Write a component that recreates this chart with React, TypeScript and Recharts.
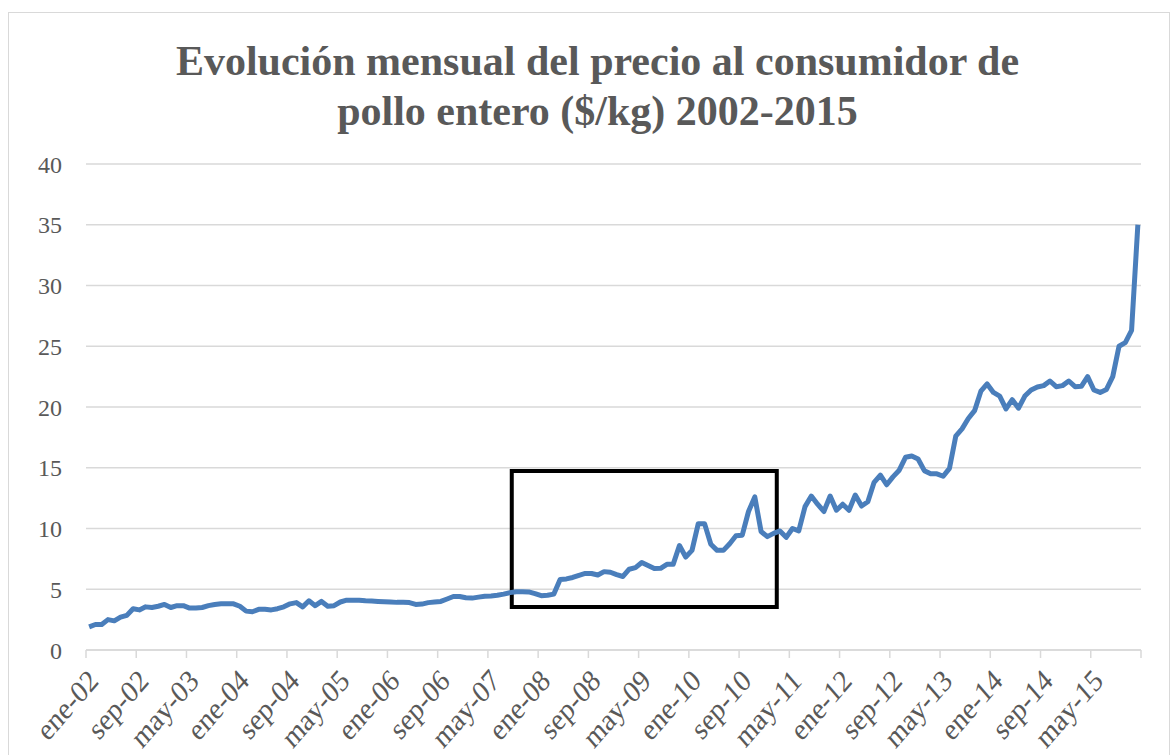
import { LineChart, Line, XAxis, YAxis, CartesianGrid, ReferenceArea } from 'recharts';

// etiquetas del eje X, una cada 8 meses desde ene-02
const tickLabels = [
  'ene-02', 'sep-02', 'may-03', 'ene-04', 'sep-04', 'may-05', 'ene-06', 'sep-06',
  'may-07', 'ene-08', 'sep-08', 'may-09', 'ene-10', 'sep-10', 'may-11', 'ene-12',
  'sep-12', 'may-13', 'ene-14', 'sep-14', 'may-15',
];

const yTicks = [0, 5, 10, 15, 20, 25, 30, 35, 40];

// precio mensual ($/kg), ene-02 .. dic-15
const precios = [
  1.9, 2.1, 2.1, 2.5, 2.4, 2.7, 2.85, 3.4, 3.3, 3.55, 3.5, 3.6,
  3.75, 3.5, 3.65, 3.65, 3.45, 3.45, 3.5, 3.65, 3.75, 3.8, 3.8, 3.8,
  3.6, 3.2, 3.15, 3.35, 3.35, 3.3, 3.4, 3.55, 3.8, 3.9, 3.55, 4.05,
  3.65, 4.0, 3.6, 3.65, 3.95, 4.1, 4.1, 4.1, 4.05, 4.03, 4.0, 3.98,
  3.95, 3.92, 3.92, 3.9, 3.75, 3.78, 3.9, 3.95, 4.0, 4.2, 4.4, 4.4,
  4.3, 4.27, 4.35, 4.42, 4.45, 4.5, 4.6, 4.72, 4.8, 4.8, 4.78, 4.64,
  4.47, 4.5, 4.6, 5.8, 5.85, 5.97, 6.15, 6.3, 6.3, 6.17, 6.45, 6.4,
  6.2, 6.05, 6.65, 6.78, 7.2, 6.95, 6.7, 6.72, 7.05, 7.05, 8.6, 7.65,
  8.2, 10.4, 10.4, 8.7, 8.2, 8.2, 8.75, 9.4, 9.45, 11.4, 12.6, 9.75,
  9.33, 9.6, 9.8, 9.27, 10.0, 9.8, 11.8, 12.67, 12.0, 11.4, 12.67, 11.5,
  12.0, 11.5, 12.76, 11.85, 12.2, 13.8, 14.4, 13.6, 14.25, 14.8, 15.86, 15.97,
  15.72, 14.76, 14.5, 14.5, 14.3, 14.95, 17.6, 18.2, 19.05, 19.7, 21.3, 21.9,
  21.2, 20.9, 19.84, 20.6, 19.9, 20.9, 21.4, 21.65, 21.76, 22.14, 21.67, 21.76,
  22.14, 21.67, 21.7, 22.5, 21.4, 21.2, 21.45, 22.5, 25.0, 25.3, 26.3, 35.0,
];

// recuadro destacado (meses desde ene-02, $/kg)
const recuadro = { x1: 67.8, x2: 110, y1: 3.54, y2: 14.73 };

const data = precios.map((v, i) => ({ x: i + 0.5, precio: v }));
const xTicks = [...tickLabels.map((_, i) => i * 8), precios.length];

const gray = '#595959';
const font = '"Liberation Serif", "Times New Roman", serif';

// etiqueta girada; el original está algo estirado en vertical
function XTick(props: any) {
  const { x, y, payload } = props;
  const label = tickLabels[payload.value / 8] ?? '';
  const ax = x + 8;
  const ay = y + 16;
  return (
    <text
      x={0}
      y={0}
      transform={`translate(${ax}, ${ay}) scale(1, 1.15) rotate(-45)`}
      textAnchor="end"
      fill={gray}
      fontSize={27}
      fontFamily={font}
      dy="0.3em"
    >
      {label}
    </text>
  );
}

export default function App() {
  return (
    <div style={{ position: 'absolute', left: 0, top: 0, width: 1172, height: 755, background: '#fff', overflow: 'hidden' }}>
      <div style={{ position: 'absolute', left: 8, top: 12, width: 1160, height: 760, border: '1px solid #d9d9d9' }} />
      <div
        style={{
          position: 'absolute', left: 0, top: 36, width: 1195, textAlign: 'center',
          fontFamily: font, fontWeight: 'bold', fontSize: 42, lineHeight: '50px', color: gray,
        }}
      >
        Evolución mensual del precio al consumidor de
        <br />
        pollo entero ($/kg) 2002-2015
      </div>
      <div style={{ position: 'absolute', left: 0, top: 0 }}>
        <LineChart width={1172} height={755} data={data} margin={{ top: 164, right: 31, left: 0, bottom: 0 }}>
          <CartesianGrid horizontal vertical={false} stroke="#d9d9d9" strokeWidth={1.5} />
          <XAxis
            type="number"
            dataKey="x"
            domain={[0, precios.length]}
            ticks={xTicks}
            interval={0}
            height={105}
            axisLine={{ stroke: '#d9d9d9', strokeWidth: 1.5 }}
            tickLine={{ stroke: '#d9d9d9', strokeWidth: 1.5 }}
            tickSize={8}
            tick={<XTick />}
          />
          <YAxis
            domain={[0, 40]}
            ticks={yTicks}
            interval={0}
            width={86}
            axisLine={false}
            tickLine={false}
            tickSize={0}
            tickMargin={24}
            tick={{ fill: gray, fontSize: 24, fontFamily: font }}
          />
          <Line
            type="linear"
            dataKey="precio"
            stroke="#4a7ebb"
            strokeWidth={5}
            strokeLinejoin="round"
            dot={false}
            isAnimationActive={false}
          />
          <ReferenceArea
            x1={recuadro.x1}
            x2={recuadro.x2}
            y1={recuadro.y1}
            y2={recuadro.y2}
            fill="none"
            fillOpacity={0}
            stroke="#000"
            strokeWidth={4}
            ifOverflow="visible"
          />
        </LineChart>
      </div>
    </div>
  );
}
